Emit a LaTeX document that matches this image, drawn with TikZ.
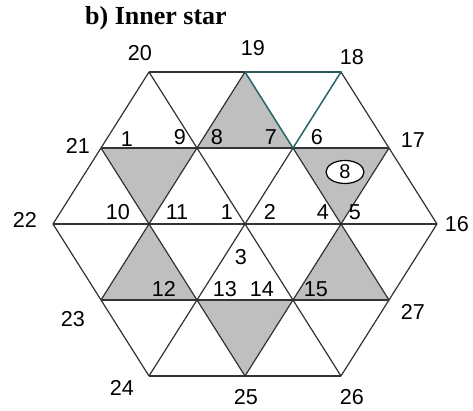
\documentclass[tikz,border=0pt]{standalone}
\usepackage{fontspec}
\setmainfont{Liberation Sans}
\newfontfamily\titlefont{Liberation Serif}
\usetikzlibrary{shapes.geometric}
\definecolor{edgeteal}{RGB}{40,110,110}
\tikzset{
  gline/.style={line width=0.6pt,black!80},
  tline/.style={line width=0.6pt,edgeteal},
  starfill/.style={fill=black!25},
  numlbl/.style={font=\fontsize{10.8}{12}\selectfont,inner sep=0pt},
  ttl/.style={font=\titlefont\bfseries\fontsize{13}{15}\selectfont,inner sep=0pt},
  tag/.style={ellipse,draw,line width=0.6pt,fill=white,minimum width=19pt,
    minimum height=11.5pt,inner sep=0pt,font=\fontsize{10}{11}\selectfont},
}

\begin{document}
\begin{tikzpicture}[x=0.5pt,y=-0.5pt]
  \useasboundingbox (0,0) rectangle (473,411);
  % lattice points
  \coordinate (n20) at (149,72);  \coordinate (n19) at (245,72);
  \coordinate (n18) at (341,72);
  \coordinate (n21) at (101,148); \coordinate (n9) at (197,148);
  \coordinate (n7) at (293,148);  \coordinate (n17) at (389,148);
  \coordinate (n22) at (53,224);  \coordinate (n10) at (149,224);
  \coordinate (n1) at (245,224);  \coordinate (n4) at (341,224);
  \coordinate (n16) at (437,224);
  \coordinate (n23) at (101,300); \coordinate (n12) at (197,300);
  \coordinate (n14) at (293,300); \coordinate (n27) at (389,300);
  \coordinate (n24) at (149,376); \coordinate (n25) at (245,376);
  \coordinate (n26) at (341,376);
  % tips of the star
  \fill[starfill] (n19) -- (n9) -- (n7) -- cycle;
  \fill[starfill] (n21) -- (n9) -- (n10) -- cycle;
  \fill[starfill] (n7) -- (n17) -- (n4) -- cycle;
  \fill[starfill] (n10) -- (n23) -- (n12) -- cycle;
  \fill[starfill] (n4) -- (n14) -- (n27) -- cycle;
  \fill[starfill] (n12) -- (n14) -- (n25) -- cycle;
  % grid
  \draw[gline] (n20) -- (n18);
  \draw[gline] (n21) -- (n17);
  \draw[gline] (n22) -- (n16);
  \draw[gline] (n23) -- (n27);
  \draw[gline] (n24) -- (n26);
  \draw[gline] (n22) -- (n20);
  \draw[gline] (n23) -- (n19);
  \draw[gline] (n24) -- (n18);
  \draw[gline] (n25) -- (n17);
  \draw[gline] (n26) -- (n16);
  \draw[gline] (n22) -- (n24);
  \draw[gline] (n21) -- (n25);
  \draw[gline] (n20) -- (n26);
  \draw[gline] (n19) -- (n27);
  \draw[gline] (n18) -- (n16);
  \draw[tline] (n19) -- (n18) -- (n7) -- cycle;
  % title and marker
  \node[ttl] (title) at (156,18) {b) Inner star};
  \node[tag] (mk) at (345,172) {8};
  % numbers
  \node[numlbl] (l20) at (140,53) {20};
  \node[numlbl] (l19) at (253,48) {19};
  \node[numlbl] (l18) at (352,57) {18};
  \node[numlbl] (l21) at (78,146) {21};
  \node[numlbl] (l1a) at (127,139) {1};
  \node[numlbl] (l9) at (180,137) {9};
  \node[numlbl] (l8) at (217,137) {8};
  \node[numlbl] (l7) at (271,137) {7};
  \node[numlbl] (l6) at (317,137) {6};
  \node[numlbl] (l17) at (413,140) {17};
  \node[numlbl] (l22) at (25,220) {22};
  \node[numlbl] (l10) at (118,212) {10};
  \node[numlbl] (l11) at (177,212) {11};
  \node[numlbl] (l1b) at (227,212) {1};
  \node[numlbl] (l2) at (270,212) {2};
  \node[numlbl] (l4) at (323,212) {4};
  \node[numlbl] (l5) at (355,212) {5};
  \node[numlbl] (l16) at (457,224) {16};
  \node[numlbl] (l3) at (241,257) {3};
  \node[numlbl] (l12) at (164,289) {12};
  \node[numlbl] (l13) at (225,289) {13};
  \node[numlbl] (l14) at (262,289) {14};
  \node[numlbl] (l15) at (316,289) {15};
  \node[numlbl] (l23) at (73,319) {23};
  \node[numlbl] (l27) at (413,312) {27};
  \node[numlbl] (l24) at (122,388) {24};
  \node[numlbl] (l25) at (246,397) {25};
  \node[numlbl] (l26) at (352,397) {26};
\end{tikzpicture}
\end{document}
